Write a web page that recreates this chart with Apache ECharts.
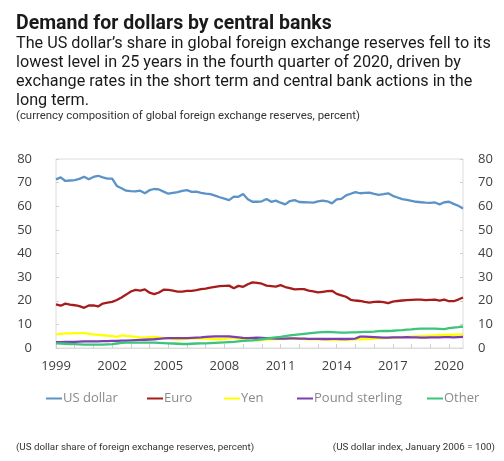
<!DOCTYPE html>
<html>
<head>
<meta charset="utf-8">
<script src="https://cdn.jsdelivr.net/npm/echarts@6/dist/echarts.min.js"></script>
<style>
  html, body { margin: 0; padding: 0; background: #fff; }
  #chart { width: 504px; height: 461px; }
</style>
</head>
<body>
<div id="chart"></div>
<script>
// quarters 1999Q1 .. 2020Q4
const years = []
for (let y = 1999; y <= 2020; y++) years.push(y)
const quarters = []
years.forEach(y => { for (let q = 1; q <= 4; q++) quarters.push(y + 'Q' + q) })

const yTicks = [0, 10, 20, 30, 40, 50, 60, 70, 80]

const usDollar = [71.4, 72.2, 70.7, 70.9, 71.1, 71.6, 72.5, 71.4, 72.4, 72.9, 72.2, 71.7,
  71.7, 68.6, 67.6, 66.6, 66.4, 66.3, 66.6, 65.5, 66.8, 67.3, 67.1, 66.2,
  65.3, 65.7, 66.0, 66.5, 66.8, 66.1, 66.2, 65.7, 65.3, 65.1, 64.5, 63.8,
  63.2, 62.6, 64.1, 64.0, 65.2, 63.0, 61.9, 61.9, 62.1, 63.1, 61.9, 62.4,
  61.5, 60.8, 62.2, 62.6, 61.8, 61.7, 61.6, 61.5, 62.1, 62.4, 62.1, 61.2,
  62.9, 63.1, 64.6, 65.3, 66.0, 65.5, 65.7, 65.8, 65.2, 64.8, 65.1, 65.5,
  64.4, 63.7, 63.0, 62.7, 62.3, 61.9, 61.7, 61.5, 61.4, 61.6, 60.8, 61.7,
  61.9, 61.0, 60.2, 59.0]

const euro = [18.5, 17.9, 18.8, 18.4, 18.1, 17.7, 17.0, 18.0, 18.0, 17.6, 18.8, 19.2,
  19.5, 20.3, 21.4, 22.6, 23.9, 24.6, 24.3, 24.8, 23.4, 22.8, 23.5, 24.7,
  24.6, 24.3, 23.9, 23.9, 24.2, 24.2, 24.5, 24.9, 25.1, 25.6, 25.9, 26.2,
  26.3, 26.4, 25.3, 26.3, 25.9, 27.0, 27.8, 27.6, 27.2, 26.4, 26.2, 26.0,
  26.6, 25.8, 25.3, 24.8, 24.9, 24.9, 24.3, 24.0, 23.5, 23.8, 24.1, 24.2,
  22.9, 22.3, 21.7, 20.4, 20.1, 19.9, 19.5, 19.2, 19.5, 19.6, 19.4, 19.0,
  19.6, 19.9, 20.1, 20.3, 20.4, 20.5, 20.5, 20.3, 20.4, 20.5, 20.1, 20.5,
  19.8, 19.8, 20.5, 21.4]

const yen = [5.8, 6.0, 6.2, 6.2, 6.3, 6.3, 6.3, 6.1, 5.8, 5.6, 5.4, 5.2,
  5.0, 4.7, 5.3, 5.1, 4.9, 4.7, 4.5, 4.4, 4.6, 4.7, 4.5, 4.3,
  4.1, 3.9, 3.7, 3.8, 3.9, 4.0, 4.0, 4.0, 4.0, 3.9, 3.8, 3.7,
  3.9, 4.2, 4.4, 4.0, 3.7, 3.5, 3.3, 3.2, 3.4, 3.6, 3.7, 3.8,
  3.8, 3.9, 3.9, 4.0, 3.9, 3.8, 3.7, 3.7, 3.8, 3.7, 3.6, 3.5,
  3.6, 3.5, 3.5, 3.6, 3.7, 3.7, 3.8, 3.9, 4.0, 4.1, 4.2, 4.3,
  4.4, 4.5, 4.6, 4.7, 4.8, 4.9, 5.0, 5.1, 5.2, 5.3, 5.4, 5.5,
  5.6, 5.6, 5.7, 5.8]

const pound = [2.5, 2.5, 2.6, 2.6, 2.6, 2.7, 2.8, 2.8, 2.8, 2.8, 2.9, 2.9,
  3.0, 3.0, 3.1, 3.1, 3.2, 3.3, 3.4, 3.5, 3.6, 3.7, 3.9, 4.1,
  4.2, 4.2, 4.2, 4.2, 4.2, 4.3, 4.4, 4.5, 4.7, 4.8, 4.9, 4.9,
  4.9, 4.9, 4.7, 4.5, 4.3, 4.2, 4.3, 4.4, 4.3, 4.2, 4.1, 4.0,
  4.0, 4.0, 4.1, 4.1, 4.0, 4.0, 3.9, 3.9, 3.9, 3.8, 3.8, 3.9,
  3.9, 3.8, 3.8, 3.9, 4.0, 4.8, 4.8, 4.7, 4.6, 4.5, 4.4, 4.4,
  4.5, 4.5, 4.5, 4.6, 4.5, 4.5, 4.4, 4.4, 4.5, 4.5, 4.5, 4.6,
  4.6, 4.5, 4.6, 4.7]

const other = [2.0, 1.9, 1.8, 1.7, 1.6, 1.5, 1.4, 1.4, 1.4, 1.4, 1.4, 1.5,
  1.6, 1.9, 2.2, 2.3, 2.3, 2.3, 2.3, 2.3, 2.3, 2.3, 2.2, 2.1,
  2.0, 1.9, 1.8, 1.7, 1.7, 1.8, 1.9, 2.0, 2.0, 2.1, 2.2, 2.3,
  2.4, 2.5, 2.6, 2.8, 3.0, 3.1, 3.2, 3.4, 3.7, 4.0, 4.3, 4.5,
  4.7, 5.0, 5.3, 5.6, 5.8, 6.0, 6.2, 6.4, 6.6, 6.7, 6.8, 6.7,
  6.6, 6.5, 6.5, 6.6, 6.6, 6.7, 6.8, 6.8, 6.9, 7.1, 7.2, 7.2,
  7.3, 7.5, 7.6, 7.8, 7.9, 8.1, 8.2, 8.2, 8.2, 8.2, 8.1, 8.0,
  8.4, 8.6, 8.8, 9.1]

const seriesNames = ['US dollar', 'Euro', 'Yen', 'Pound sterling', 'Other']
const seriesData = [usDollar, euro, yen, pound, other]
const colors = ['#5b93c7', '#a61c1c', '#ffff00', '#7b3fb0', '#3cc47a']
const legendLeft = [41, 142, 219, 292, 422]

const chart = echarts.init(document.getElementById('chart'))

const yAxisCommon = {
  type: 'value',
  min: yTicks[0],
  max: yTicks[yTicks.length - 1],
  interval: 10,
  axisLine: { show: false },
  axisTick: { show: true, inside: true, length: 3, lineStyle: { color: '#cfcfcf' } },
  splitLine: { show: false },
  axisLabel: { fontFamily: 'Open Sans', fontSize: 13, color: '#404040' }
}

const option = {
  animation: false,
  color: colors,
  title: [
    {
      text: 'Demand for dollars by central banks',
      left: 11, top: 9,
      textStyle: { fontFamily: 'Roboto', fontWeight: 'bold', fontSize: 19.5, color: '#1a1a1a' }
    },
    {
      text: 'The US dollar\u2019s share in global foreign exchange reserves fell to its\nlowest level in 25 years in the fourth quarter of 2020, driven by\nexchange rates in the short term and central bank actions in the\nlong term.',
      left: 11, top: 29,
      textStyle: { fontFamily: 'Roboto', fontWeight: 'normal', fontSize: 16.2, lineHeight: 19, color: '#1a1a1a' }
    },
    {
      text: '(currency composition of global foreign exchange reserves, percent)',
      left: 11, top: 106,
      textStyle: { fontFamily: 'Roboto', fontWeight: 'normal', fontSize: 11.4, color: '#333' }
    },
    {
      text: '(US dollar share of foreign exchange reserves, percent)',
      left: 11, top: 438,
      textStyle: { fontFamily: 'Roboto', fontWeight: 'normal', fontSize: 9.8, color: '#333' }
    },
    {
      text: '(US dollar index, January 2006 = 100)',
      right: 4, top: 438,
      textStyle: { fontFamily: 'Roboto', fontWeight: 'normal', fontSize: 9.8, color: '#333' }
    }
  ],
  legend: seriesNames.map((name, i) => ({
    data: [name],
    left: legendLeft[i],
    top: 387,
    icon: 'rect',
    itemWidth: 16,
    itemHeight: 2,
    itemGap: 0,
    textStyle: { fontFamily: 'Open Sans', fontSize: 13, color: '#8a8a8a', padding: [0, 0, 0, -4] }
  })),
  grid: {
    left: 56, right: 41, top: 159, bottom: 113,
    show: true, borderColor: '#dcdcdc', borderWidth: 1
  },
  xAxis: {
    type: 'category',
    data: quarters,
    boundaryGap: false,
    axisLine: { show: true, lineStyle: { color: '#dcdcdc' } },
    axisTick: { show: true, inside: true, length: 4, interval: 3, lineStyle: { color: '#cfcfcf' } },
    axisLabel: {
      interval: 11,
      margin: 12,
      fontFamily: 'Open Sans', fontSize: 13, color: '#404040',
      formatter: v => v.slice(0, 4)
    },
    splitLine: { show: false }
  },
  yAxis: [
    Object.assign({}, yAxisCommon, { position: 'left', axisLabel: Object.assign({}, yAxisCommon.axisLabel, { margin: 24 }) }),
    Object.assign({}, yAxisCommon, { position: 'right', axisLabel: Object.assign({}, yAxisCommon.axisLabel, { margin: 15 }) })
  ],
  series: seriesNames.map((name, i) => ({
    name: name,
    type: 'line',
    data: seriesData[i],
    showSymbol: false,
    symbol: 'none',
    lineStyle: { width: 2.3, color: colors[i] },
    itemStyle: { color: colors[i] }
  }))
}

chart.setOption(option)
</script>
</body>
</html>
